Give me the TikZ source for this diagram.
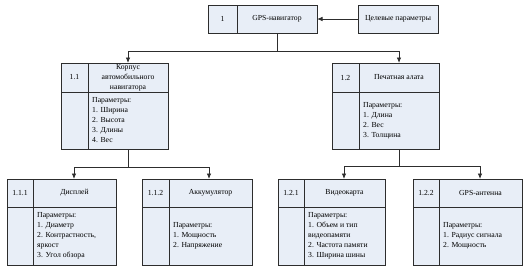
\documentclass[tikz,border=0pt]{standalone}
\usepackage{fontspec}
\setmainfont{Liberation Serif}
\usetikzlibrary{arrows.meta}
\definecolor{boxfill}{RGB}{232,238,247}
\definecolor{lncol}{RGB}{45,45,45}
\tikzset{
  frame/.style={draw=lncol, line width=0.9pt, fill=boxfill, rectangle, inner sep=0pt, outer sep=0pt, anchor=north west},
  sep/.style={draw=lncol, line width=0.9pt},
  conn/.style={draw=lncol, line width=0.8pt},
  arr/.style={conn, -{Latex[length=5.5pt,width=4.5pt]}},
  txt/.style={font=\fontsize{7.7}{10}\selectfont, inner sep=0pt, align=center},
  body/.style={font=\fontsize{7.7}{10}\selectfont, inner sep=0pt, align=left, anchor=west}
}
% #1 name, #2 x1, #3 xdiv, #4 x2, #5 ytop, #6 ymid, #7 ybot
\newcommand\blockbox[7]{%
  \node[frame, minimum width={(#4-#2)*1pt}, minimum height={(#7-#5)*1pt}] (#1) at (#2,#5) {};
  \draw[sep] (#3,#5) -- (#3,#7);
  \draw[sep] (#2,#6) -- (#4,#6);
  \coordinate (#1num) at ({(#2+#3)/2},{(#5+#6)/2});
  \coordinate (#1tit) at ({(#3+#4)/2},{(#5+#6)/2});
  \coordinate (#1bod) at ({#3+4},{(#6+#7)/2});
}
\begin{document}
\begin{tikzpicture}[x=1pt,y=-1pt]
\useasboundingbox (0,0) rectangle (529,274);
% top
\node[frame, minimum width=109pt, minimum height=28pt] (top) at (208,5) {};
\draw[sep] (237,5) -- (237,33);
\node[txt] (topnum) at (222.5,19) {1};
\node[txt] (toptit) at (277,19) {GPS-навигатор};
\node[frame, minimum width=80pt, minimum height=28pt] (goal) at (358,5) {};
\node[txt] (goaltxt) at (398,19) {Целевые параметры};
\draw[arr] (goal.west) -- (top.east);

% level 2
\blockbox{b11}{61}{88}{168}{63}{92}{149}
\node[txt] (b11n) at (b11num) {1.1};
\node[txt] (b11t) at (b11tit) {Корпус\\автомобильного\\навигатора};
\node[body] (b11b) at (b11bod) {Параметры:\\1. Ширина\\2. Высота\\3. Длины\\4. Вес};

\blockbox{b12}{332}{359}{439}{63}{92}{149}
\node[txt] (b12n) at (b12num) {1.2};
\node[txt] (b12t) at (b12tit) {Печатная алата};
\node[body] (b12b) at (b12bod) {Параметры:\\1. Длина\\2. Вес\\3. Толщина};

% level 3
\blockbox{b111}{7}{33}{116}{179}{207}{265}
\node[txt] (b111n) at (b111num) {1.1.1};
\node[txt] (b111t) at (b111tit) {Дисплей};
\node[body] (b111b) at (b111bod) {Параметры:\\1. Диаметр\\2. Контрастность,\\яркост\\3. Угол обзора};

\blockbox{b112}{142}{169}{252}{179}{207}{265}
\node[txt] (b112n) at (b112num) {1.1.2};
\node[txt] (b112t) at (b112tit) {Аккумулятор};
\node[body] (b112b) at (b112bod) {Параметры:\\1. Мощность\\2. Напряжение};

\blockbox{b121}{278}{304}{385}{179}{207}{265}
\node[txt] (b121n) at (b121num) {1.2.1};
\node[txt] (b121t) at (b121tit) {Видеокарта};
\node[body] (b121b) at (b121bod) {Параметры:\\1. Объем и тип\\видеопамяти\\2. Частота памяти\\3. Ширина шины};

\blockbox{b122}{413}{439}{522}{179}{207}{265}
\node[txt] (b122n) at (b122num) {1.2.2};
\node[txt] (b122t) at (b122tit) {GPS-антенна};
\node[body] (b122b) at (b122bod) {Параметры:\\1. Радиус сигнала\\2. Мощность};

% connectors
\coordinate (j0) at (277,51);
\coordinate (e11) at (128,63);
\coordinate (e12) at (399,63);
\draw[conn] (j0 |- top.south) -- (j0);
\draw[arr] (j0) -| (e11);
\draw[arr] (j0) -| (e12);

\coordinate (j1) at (128,167);
\coordinate (e111) at (74,179);
\coordinate (e112) at (209,179);
\draw[conn] (j1 |- b11.south) -- (j1);
\draw[arr] (j1) -| (e111);
\draw[arr] (j1) -| (e112);

\coordinate (j2) at (399,166);
\coordinate (e121) at (344,179);
\coordinate (e122) at (480,179);
\draw[conn] (j2 |- b12.south) -- (j2);
\draw[arr] (j2) -| (e121);
\draw[arr] (j2) -| (e122);
\end{tikzpicture}
\end{document}
